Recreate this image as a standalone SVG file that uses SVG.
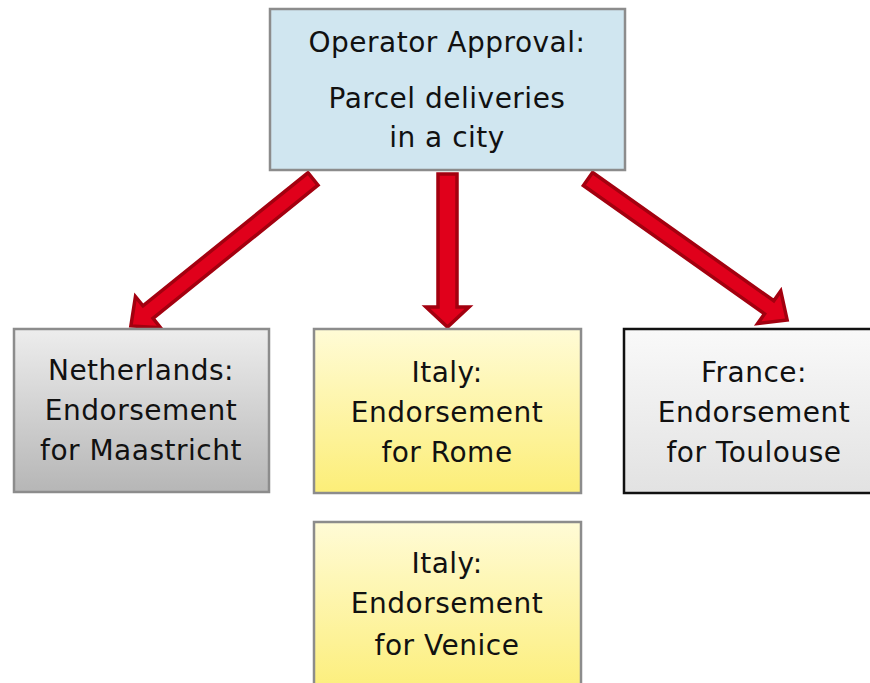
<svg xmlns="http://www.w3.org/2000/svg" width="870" height="683" viewBox="0 0 870 683">
<style>
.box{stroke:#8c8c8c;stroke-width:2.5}
.txt{font-family:"DejaVu Sans","Liberation Sans",sans-serif;font-size:28px;letter-spacing:0.5px;fill:#111;text-anchor:middle}
.arrow{fill:#e0001b;stroke:#a3000f;stroke-width:3.5;stroke-linejoin:miter}
</style>
<defs>
<linearGradient id="gGray" x1="0" y1="0" x2="0" y2="1"><stop offset="0" stop-color="#ededed"/><stop offset="1" stop-color="#b6b6b6"/></linearGradient>
<linearGradient id="gYellow" x1="0" y1="0" x2="0" y2="1"><stop offset="0" stop-color="#fffbd6"/><stop offset="1" stop-color="#fcee78"/></linearGradient>
<linearGradient id="gYellow2" x1="0" y1="0" x2="0" y2="1"><stop offset="0" stop-color="#fffbd6"/><stop offset="1" stop-color="#fcee78"/></linearGradient>
<linearGradient id="gLight" x1="0" y1="0" x2="0" y2="1"><stop offset="0" stop-color="#f9f9f9"/><stop offset="1" stop-color="#e2e2e2"/></linearGradient>
</defs>
<rect width="870" height="683" fill="#fff"/>
<g id="connectors">
<path class="arrow" transform="translate(447.5,174) rotate(90)" d="M0,-9.5 L133,-9.5 L133,-21.5 L153,0 L133,21.5 L133,9.5 L0,9.5 Z"/>
<path class="arrow" transform="translate(313,179) rotate(141.1)" d="M0,-8 L212,-8 L212,-20 L234,0 L212,20 L212,8 L0,8 Z"/>
<path class="arrow" transform="translate(588,179) rotate(35.3)" d="M0,-8 L222,-8 L222,-20 L244,0 L222,20 L222,8 L0,8 Z"/>
</g>
<g id="operator">
<rect class="box" x="270" y="9" width="355" height="161" fill="#d0e6f0"/>
<text class="txt" x="447" y="52">Operator Approval:</text>
<text class="txt" x="447" y="108">Parcel deliveries</text>
<text class="txt" x="447" y="147">in a city</text>
</g>
<g id="netherlands">
<rect class="box" x="14" y="329" width="255" height="163" fill="url(#gGray)"/>
<text class="txt" x="141" y="380">Netherlands:</text>
<text class="txt" x="141" y="420">Endorsement</text>
<text class="txt" x="141" y="460">for Maastricht</text>
</g>
<g id="rome">
<rect class="box" x="314" y="329" width="267" height="164" fill="url(#gYellow)"/>
<text class="txt" x="447" y="382">Italy:</text>
<text class="txt" x="447" y="422">Endorsement</text>
<text class="txt" x="447" y="462">for Rome</text>
</g>
<g id="france">
<rect x="624" y="329" width="260" height="164" fill="url(#gLight)" stroke="#111" stroke-width="2.5"/>
<text class="txt" x="754" y="382">France:</text>
<text class="txt" x="754" y="422">Endorsement</text>
<text class="txt" x="754" y="462">for Toulouse</text>
</g>
<g id="venice">
<rect class="box" x="314" y="522" width="267" height="175" fill="url(#gYellow2)"/>
<text class="txt" x="447" y="573">Italy:</text>
<text class="txt" x="447" y="613">Endorsement</text>
<text class="txt" x="447" y="655">for Venice</text>
</g>
</svg>
